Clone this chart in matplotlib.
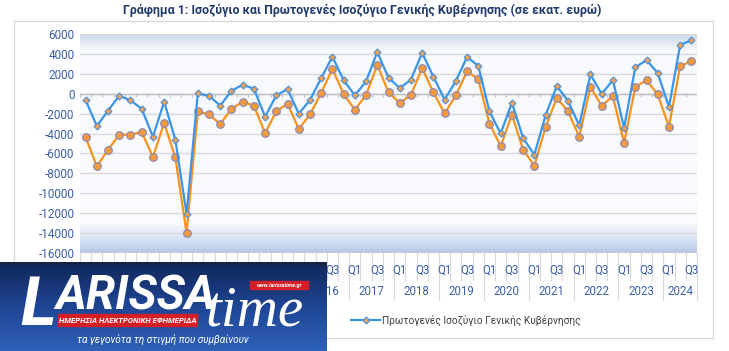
import matplotlib
matplotlib.use("Agg")
import matplotlib.pyplot as plt
import matplotlib.transforms as mtransforms
from matplotlib import font_manager as fm
from matplotlib.patches import Rectangle
import numpy as np

# data (million euro), 2011Q1 .. 2024Q3
years = ["2011", "2012", "2013", "2014", "2015", "2016", "2017",
         "2018", "2019", "2020", "2021", "2022", "2023", "2024"]
quarter_names = ["Q1", "Q2", "Q3", "Q4"]

balance = [-4360, -7300, -5630, -4120, -4100, -3850, -6360, -2950, -6400, -14000,
           -1780, -2080, -3050, -1540, -800, -1210, -3950, -1780, -1000, -3550,
           -2080, 70, 2480, -30, -1610, -130, 2880, 140, -940, -130,
           2580, 140, -1980, -170, 2240, 1470, -3010, -5260, -2110, -5630,
           -7240, -3380, -400, -1780, -4320, 700, -1240, -230, -4960, 670,
           1370, -70, -3320, 2780, 3250]
primary = [-640, -3250, -1700, -200, -670, -1510, -4320, -800, -4620, -12090,
           30, -200, -1200, 300, 900, 500, -2310, -170, 470, -2010,
           -640, 1570, 3720, 1370, -170, 1240, 4190, 1610, 570, 1410,
           4120, 1710, -600, 1270, 3680, 2810, -1780, -3990, -900, -4460,
           -6130, -2180, 770, -700, -3180, 1940, -20, 1370, -3420, 2650,
           3380, 2080, -1340, 4920, 5360]

quarters = []
year_of = []
for y in years:
    for q in quarter_names:
        quarters.append(q)
        year_of.append(y)
quarters = quarters[:len(primary)]
year_of = year_of[:len(primary)]

names = {f.name for f in fm.fontManager.ttflist}
main_font = "Roboto" if "Roboto" in names else "DejaVu Sans"
serif = "Liberation Serif" if "Liberation Serif" in names else "DejaVu Serif"
plt.rcParams["font.family"] = [main_font, "DejaVu Sans"]
plt.rcParams["axes.unicode_minus"] = False

W, H = 729, 351
LOGO_W = 327  # the site logo hides the lower left corner of the chart
fig = plt.figure(figsize=(W / 100, H / 100), dpi=100)

# outer chart frame
fig.patches.append(Rectangle((14 / W, 1 - 338 / H), 699 / W, 317 / H, transform=fig.transFigure,
                             fill=False, edgecolor="#d9d9d9", lw=1))

fig.text(362 / W, 1 - 10 / H,
         "Γράφημα 1: Ισοζύγιο και Πρωτογενές Ισοζύγιο Γενικής Κυβέρνησης (σε εκατ. ευρώ)",
         ha="center", va="center", fontsize=8.9, fontweight="bold", color="#1f3a6e")

ax = fig.add_axes([80 / W, 1 - 253 / H, 617 / W, 219 / H])

# plot area gradient (excel style)
t = np.linspace(0, 1, 400)
stops = [0, 0.05, 0.14, 0.5, 0.92, 0.96, 1]
cols = np.array([[0.72, 0.78, 0.90], [0.82, 0.87, 0.95], [0.98, 0.985, 0.995],
                 [0.975, 0.982, 0.995], [0.97, 0.978, 0.99], [0.90, 0.92, 0.96],
                 [0.80, 0.85, 0.93]])
grad = np.stack([np.interp(t, stops, cols[:, c]) for c in range(3)], axis=-1)[:, None, :]
ax.imshow(grad, extent=[0, 1, 0, 1], transform=ax.transAxes, aspect="auto",
          origin="lower", zorder=0)

x = np.arange(len(primary))
yticks = np.arange(-16000, 6001, 2000)
for yt in yticks:
    ax.axhline(yt, color="#d9d9d9", lw=1, zorder=1)
ax.axhline(0, color="#c0c0c0", lw=1, zorder=1.5)
ax.vlines(np.arange(-0.5, len(x), 1), -300, 0, color="#c0c0c0", lw=0.8, zorder=1.5)

ax.plot(x, balance, color="#f7921e", lw=1.6, marker="o", ms=5.5, mfc="#f39b3c",
        mec="#8585bd", mew=0.8, zorder=3, label="Ισοζύγιο Γενικής Κυβέρνησης")
ax.plot(x, primary, color="#3a95e8", lw=1.6, marker="D", ms=3.5, mfc="#f3a04f",
        mec="#4d8fd8", mew=0.8, zorder=4, label="Πρωτογενές Ισοζύγιο Γενικής Κυβέρνησης")

ax.set_xlim(-0.5, len(x) - 0.5)
ax.set_ylim(-16000, 6000)
ax.set_yticks(yticks)
ax.set_xticks([])
ax.tick_params(axis="y", length=0, labelsize=8.5, labelcolor="#3a5fa8", pad=4)
for s in ax.spines.values():
    s.set_visible(False)

# multi level category axis
blend = mtransforms.blended_transform_factory(ax.transData, ax.transAxes)
for b in np.arange(-0.5, len(x), 1):
    ax.plot([b, b], [0, -0.125], transform=blend, color="#d9d9d9", lw=0.8, clip_on=False)
yb = [i - 0.5 for i in range(0, len(x), 4)] + [len(x) - 0.5]
for b in yb:
    ax.plot([b, b], [0, -0.215], transform=blend, color="#d9d9d9", lw=0.8, clip_on=False)


def px_x(v):
    return 80 + (v + 0.5) * 617 / len(x)


for i, q in enumerate(quarters):
    # labels fully under the logo cannot be seen, skip them
    if q in ("Q1", "Q3") and px_x(i) > LOGO_W - 4:
        ax.text(i, -0.078, q, transform=blend, ha="center", va="center",
                fontsize=8.3, color="#3a5fa8")
for y in years:
    idx = [i for i, v in enumerate(year_of) if v == y]
    if px_x(np.mean(idx)) > LOGO_W - 10:
        ax.text(np.mean(idx), -0.177, y, transform=blend, ha="center", va="center",
                fontsize=8.3, color="#3a5fa8")

fig.legend(loc="center right", bbox_to_anchor=(590 / W, 1 - 320.5 / H), ncol=2,
           frameon=False, fontsize=7.3, labelcolor="#404040", handlelength=2.9,
           columnspacing=4.0, handletextpad=0.2)

# site logo over the lower left corner
lg = fig.add_axes([0, 0, LOGO_W / W, 89 / H])
lg.set_zorder(20)
lt = np.linspace(0, 1, 200)
lcols = np.array([[0.10, 0.13, 0.20], [0.07, 0.16, 0.37], [0.12, 0.27, 0.58], [0.18, 0.38, 0.72]])
lgrad = np.stack([np.interp(lt, [0, 0.06, 0.5, 1], lcols[:, c]) for c in range(3)], axis=-1)[:, None, :]
lg.imshow(lgrad, extent=[0, LOGO_W, 89, 0], aspect="auto", zorder=0)
lg.set_xlim(0, LOGO_W)
lg.set_ylim(89, 0)
lg.axis("off")
lg.text(20, 63, "L", color="white", fontsize=49, fontweight="bold", style="italic",
        va="baseline", ha="left", zorder=2)
lg.text(55, 47, "ARISSA", color="white", fontsize=34, fontweight="bold", style="italic",
        va="baseline", ha="left", zorder=2)
lg.text(205, 64, "time", color="white", fontsize=41, style="italic", family=serif,
        va="baseline", ha="left", zorder=2)
lg.add_patch(Rectangle((250, 19), 58, 8, color="#d51f26", zorder=3))
lg.text(279, 23.2, "www.larissatime.gr", color="white", fontsize=3.9, fontweight="bold",
        style="italic", ha="center", va="center", zorder=4)
lg.add_patch(Rectangle((58, 52), 139, 12, color="#d51f26", zorder=3))
lg.text(127.5, 58.2, "ΗΜΕΡΗΣΙΑ ΗΛΕΚΤΡΟΝΙΚΗ ΕΦΗΜΕΡΙΔΑ", color="white", fontsize=5.6,
        fontweight="bold", style="italic", ha="center", va="center", zorder=4)
lg.text(163, 77.5, "τα γεγονότα τη στιγμή που συμβαίνουν", color="white", fontsize=7.2,
        style="italic", ha="center", va="center", zorder=4)

fig.savefig("out.png", dpi=100)
